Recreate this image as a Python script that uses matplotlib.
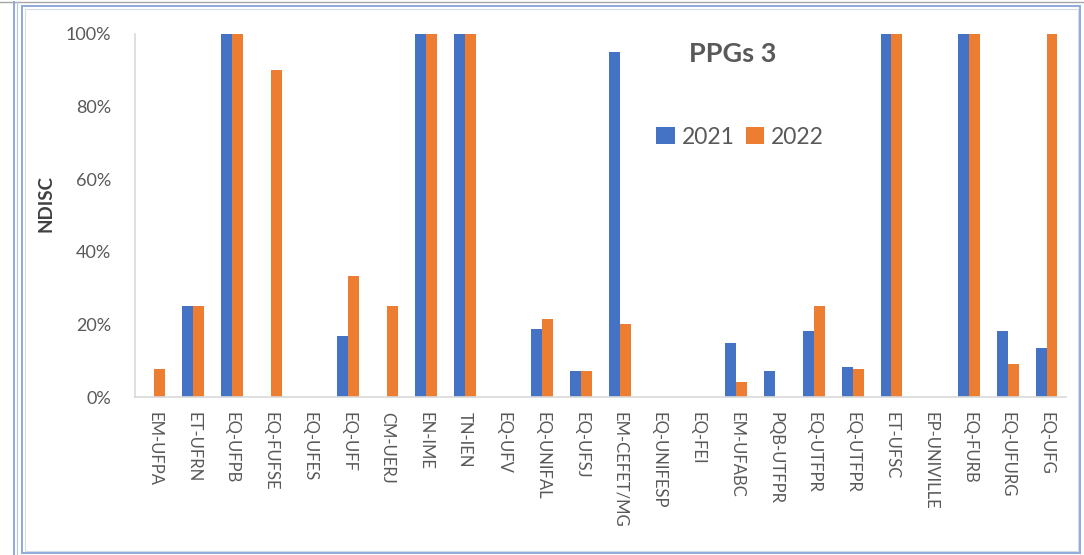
import matplotlib
matplotlib.use("Agg")
import matplotlib.pyplot as plt
from matplotlib.patches import Rectangle
from matplotlib.lines import Line2D
import numpy as np

categories = ["EM-UFPA", "ET-UFRN", "EQ-UFPB", "EQ-FUFSE", "EQ-UFES", "EQ-UFF",
              "CM-UERJ", "EN-IME", "TN-IEN", "EQ-UFV", "EQ-UNIFAL", "EQ-UFSJ",
              "EM-CEFET/MG", "EQ-UNIFESP", "EQ-FEI", "EM-UFABC", "PQB-UTFPR",
              "EQ-UTFPR", "EQ-UTFPR", "ET-UFSC", "EP-UNIVILLE", "EQ-FURB",
              "EQ-UFURG", "EQ-UFG"]

values_2021 = [0, 25, 100, 0, 0, 16.7, 0, 100, 100, 0, 18.7, 7.1,
               95, 0, 0, 14.8, 7.1, 18.2, 8.3, 100, 0, 100, 18.2, 13.4]
values_2022 = [7.7, 25, 100, 90, 0, 33.3, 25, 100, 100, 0, 21.4, 7.1,
               20, 0, 0, 4.1, 0, 25, 7.8, 100, 0, 100, 9.1, 100]

series_labels = ["2021", "2022"]
yticks = [0, 20, 40, 60, 80, 100]

BLUE = "#4472C4"
ORANGE = "#ED7D31"
TEXT = "#595959"
AXIS = "#D9D9D9"
FONT = ["Lato", "DejaVu Sans"]

W, H = 1084, 555
fig = plt.figure(figsize=(W / 100, H / 100), dpi=100)
fig.patch.set_facecolor("white")

# frame lines around the chart object
def hline(y, x0, x1, color, lw=1.2):
    fig.add_artist(Line2D([x0 / W, x1 / W], [1 - y / H, 1 - y / H], color=color, lw=lw,
                          transform=fig.transFigure))

def vline(x, y0, y1, color, lw=1.2):
    fig.add_artist(Line2D([x / W, x / W], [1 - y0 / H, 1 - y1 / H], color=color, lw=lw,
                          transform=fig.transFigure))

hline(2, 0, W, "#A6A6A6", 1.0)
vline(14, 2, H, "#8EA9DB", 1.4)
vline(16.5, 2, H, "#B4C6E7", 0.8)
fig.add_artist(Rectangle((22 / W, 1 - 553 / H), (1080 - 22) / W, (553 - 6) / H,
                         transform=fig.transFigure, fill=False,
                         edgecolor="#8EA9DB", lw=1.4))
fig.add_artist(Rectangle((24.5 / W, 1 - 550.5 / H), (1077.5 - 24.5) / W, (550.5 - 8.5) / H,
                         transform=fig.transFigure, fill=False,
                         edgecolor="#D6DCE5", lw=0.8))

left, right, top, bottom = 135, 1066, 34, 397
ax = fig.add_axes([left / W, 1 - bottom / H, (right - left) / W, (bottom - top) / H])

n = len(categories)
x = np.arange(n)
bw = 0.28
ax.bar(x - bw / 2, values_2021, width=bw, color=BLUE, label=series_labels[0])
ax.bar(x + bw / 2, values_2022, width=bw, color=ORANGE, label=series_labels[1])

ax.set_xlim(-0.5, n - 0.5)
ax.set_ylim(0, 100)

for s in ["top", "right"]:
    ax.spines[s].set_visible(False)
ax.spines["left"].set_color(AXIS)
ax.spines["bottom"].set_color(AXIS)
ax.spines["left"].set_linewidth(1.2)
ax.spines["bottom"].set_linewidth(1.2)

ax.set_yticks(yticks)
ax.set_yticklabels([f"{v}%" for v in yticks], fontsize=13, color=TEXT, family=FONT)
ax.tick_params(axis="y", length=0, pad=17)
ax.set_xticks(x)
ax.set_xticklabels(categories, rotation=-90, fontsize=12, color=TEXT, family=FONT,
                   va="top", ha="center")
ax.tick_params(axis="x", length=0, pad=11)

fig.text(46 / W, 1 - 204 / H, "NDISC", rotation=90, fontsize=13.5, fontweight="bold",
         color="#404040", ha="center", va="center", family=FONT)

fig.text(733 / W, 1 - 54 / H, "PPGs 3", fontsize=19.5, fontweight="bold", color=TEXT,
         ha="center", va="center", family=FONT)

leg = ax.legend(loc="center", bbox_to_anchor=((740 - left) / (right - left),
                                             (bottom - 137) / (bottom - top)),
                ncol=2, frameon=False, handlelength=0.8, handleheight=0.8,
                handletextpad=0.3, columnspacing=0.5,
                prop={"family": FONT, "size": 16.5})
for t in leg.get_texts():
    t.set_color(TEXT)

fig.savefig("out.png", dpi=100, facecolor="white")
